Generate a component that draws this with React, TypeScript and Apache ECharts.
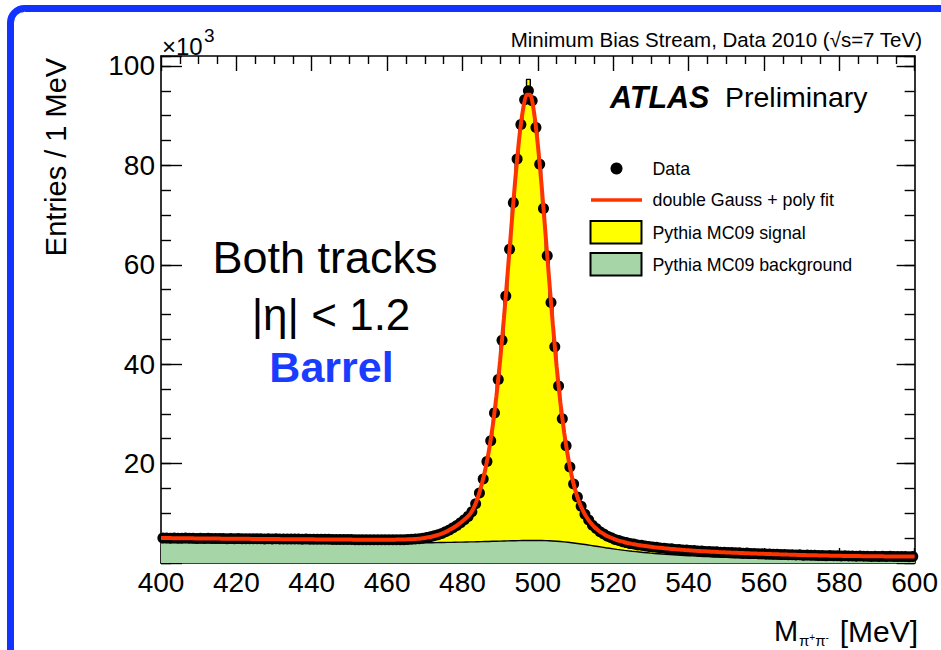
import React, { useEffect, useRef } from 'react';
import * as echarts from 'echarts';

const FONT = "'Liberation Sans', Arial, Helvetica, sans-serif";

// axis ranges / ticks (MeV, x10^3 entries)
const X_MIN = 400;
const X_MAX = 600;
const X_MAJOR = 20;
const X_MINOR_SPLIT = 4;
const Y_MIN = 0;
const Y_MAX = 102;
const Y_MAJOR = 20;
const Y_MINOR = 5;

// 1 MeV bins from 400 to 600
const BIN_LOW = 400;
const BIN_WIDTH = 1;

// Data (x10^3 entries per bin)
const dataCounts = [
  5.05, 5.02, 4.98, 5.04, 4.99, 4.97, 5.01, 4.96, 4.99, 4.95,
  4.97, 4.93, 4.96, 4.92, 4.95, 4.91, 4.94, 4.90, 4.93, 4.89,
  4.91, 4.88, 4.90, 4.87, 4.89, 4.86, 4.88, 4.85, 4.87, 4.84,
  4.86, 4.83, 4.85, 4.82, 4.84, 4.81, 4.83, 4.80, 4.82, 4.79,
  4.80, 4.78, 4.79, 4.76, 4.77, 4.74, 4.75, 4.72, 4.73, 4.71,
  4.71, 4.69, 4.70, 4.68, 4.69, 4.67, 4.69, 4.67, 4.68, 4.67,
  4.68, 4.66, 4.68, 4.67, 4.70, 4.72, 4.76, 4.81, 4.89, 4.99,
  5.12, 5.28, 5.47, 5.69, 5.95, 6.28, 6.66, 7.08, 7.56, 8.10,
  8.70, 9.38, 10.3, 11.9, 14.1, 16.9, 20.4, 24.6, 30.2, 36.9,
  44.8, 53.7, 63.1, 72.5, 81.3, 88.2, 93.2, 95.0, 93.0, 87.6,
  80.2, 71.3, 61.8, 52.4, 43.5, 35.6, 29.0, 23.6, 19.3, 15.9,
  13.3, 11.4, 9.8, 8.65, 7.6, 6.95, 6.3, 5.85, 5.38, 5.08,
  4.74, 4.53, 4.26, 4.10, 3.90, 3.80, 3.63, 3.55, 3.40, 3.34,
  3.20, 3.15, 3.03, 2.99, 2.88, 2.85, 2.74, 2.72, 2.62, 2.60,
  2.51, 2.50, 2.41, 2.40, 2.32, 2.32, 2.24, 2.24, 2.17, 2.17,
  2.10, 2.11, 2.04, 2.05, 1.98, 1.99, 1.92, 1.93, 1.86, 1.87,
  1.81, 1.82, 1.76, 1.77, 1.71, 1.73, 1.66, 1.68, 1.62, 1.64,
  1.58, 1.60, 1.54, 1.56, 1.51, 1.53, 1.47, 1.50, 1.44, 1.47,
  1.42, 1.44, 1.39, 1.42, 1.37, 1.40, 1.35, 1.38, 1.33, 1.37,
  1.32, 1.35, 1.31, 1.34, 1.30, 1.33, 1.29, 1.32, 1.28, 1.31,
];

// double Gauss + poly fit, sampled at 400, 401, ..., 600 MeV
const FIT_START = 400;
const FIT_STEP = 1;
const fitCurve = [
  5.03, 5.02, 5.01, 5.00, 4.99, 4.99, 4.98, 4.97, 4.96, 4.95,
  4.95, 4.94, 4.93, 4.92, 4.92, 4.91, 4.90, 4.90, 4.89, 4.88,
  4.88, 4.87, 4.86, 4.86, 4.85, 4.84, 4.84, 4.83, 4.82, 4.82,
  4.81, 4.81, 4.80, 4.80, 4.79, 4.78, 4.78, 4.77, 4.77, 4.76,
  4.76, 4.75, 4.75, 4.74, 4.74, 4.73, 4.73, 4.72, 4.72, 4.71,
  4.71, 4.70, 4.70, 4.70, 4.69, 4.69, 4.69, 4.69, 4.69, 4.69,
  4.69, 4.69, 4.70, 4.71, 4.72, 4.74, 4.77, 4.81, 4.87, 4.94,
  5.04, 5.17, 5.33, 5.53, 5.77, 6.06, 6.41, 6.82, 7.29, 7.82,
  8.40, 9.04, 9.84, 11.1, 13.0, 15.5, 18.6, 22.5, 27.4, 33.5,
  40.8, 49.2, 58.4, 67.8, 77.0, 85.0, 90.9, 94.2, 94.2, 90.6,
  84.2, 76.0, 66.6, 57.1, 47.9, 39.5, 32.2, 26.2, 21.4, 17.5,
  14.5, 12.2, 10.5, 9.15, 8.1, 7.25, 6.6, 6.05, 5.6, 5.22,
  4.90, 4.62, 4.39, 4.18, 4.00, 3.85, 3.71, 3.59, 3.47, 3.37,
  3.27, 3.17, 3.09, 3.01, 2.93, 2.86, 2.80, 2.73, 2.67, 2.61,
  2.56, 2.50, 2.45, 2.41, 2.36, 2.32, 2.28, 2.24, 2.20, 2.17,
  2.13, 2.10, 2.07, 2.04, 2.01, 1.98, 1.95, 1.92, 1.90, 1.87,
  1.84, 1.82, 1.79, 1.77, 1.74, 1.72, 1.70, 1.67, 1.65, 1.63,
  1.61, 1.59, 1.57, 1.55, 1.54, 1.52, 1.50, 1.49, 1.47, 1.46,
  1.44, 1.43, 1.42, 1.41, 1.40, 1.39, 1.38, 1.37, 1.36, 1.35,
  1.35, 1.34, 1.33, 1.33, 1.32, 1.32, 1.31, 1.31, 1.30, 1.30, 1.30,
];

// Pythia MC09 signal + background (stack top), per bin
const mcSignalPlusBackground = [
  4.95, 4.93, 4.92, 4.93, 4.90, 4.89, 4.90, 4.87, 4.88, 4.86,
  4.87, 4.84, 4.86, 4.83, 4.85, 4.82, 4.84, 4.81, 4.83, 4.80,
  4.81, 4.79, 4.80, 4.78, 4.79, 4.76, 4.78, 4.75, 4.77, 4.74,
  4.76, 4.73, 4.75, 4.72, 4.74, 4.71, 4.73, 4.70, 4.72, 4.69,
  4.70, 4.68, 4.69, 4.66, 4.67, 4.64, 4.65, 4.63, 4.64, 4.62,
  4.62, 4.60, 4.61, 4.59, 4.60, 4.58, 4.60, 4.58, 4.59, 4.58,
  4.59, 4.58, 4.60, 4.60, 4.62, 4.65, 4.69, 4.74, 4.82, 4.92,
  5.04, 5.19, 5.38, 5.60, 5.86, 6.18, 6.55, 6.97, 7.45, 8.00,
  8.60, 9.28, 10.1, 11.7, 13.9, 16.6, 20.0, 24.2, 29.8, 36.5,
  44.5, 53.5, 63.0, 72.5, 81.5, 88.6, 93.8, 97.3, 92.8, 87.3,
  79.8, 70.8, 61.2, 51.8, 42.9, 35.0, 28.5, 23.1, 18.8, 15.5,
  12.9, 11.0, 9.5, 8.3, 7.3, 6.6, 6.0, 5.5, 5.1, 4.78,
  4.48, 4.23, 4.02, 3.83, 3.67, 3.53, 3.40, 3.29, 3.18, 3.08,
  2.99, 2.91, 2.83, 2.76, 2.69, 2.62, 2.56, 2.50, 2.45, 2.40,
  2.35, 2.30, 2.26, 2.21, 2.17, 2.14, 2.10, 2.07, 2.03, 2.00,
  1.97, 1.94, 1.92, 1.89, 1.86, 1.84, 1.81, 1.79, 1.77, 1.74,
  1.72, 1.70, 1.68, 1.66, 1.64, 1.62, 1.60, 1.58, 1.57, 1.55,
  1.53, 1.52, 1.50, 1.49, 1.47, 1.46, 1.45, 1.43, 1.42, 1.41,
  1.40, 1.39, 1.38, 1.37, 1.36, 1.35, 1.34, 1.33, 1.32, 1.32,
  1.31, 1.30, 1.30, 1.29, 1.29, 1.28, 1.28, 1.27, 1.27, 1.27,
];

// Pythia MC09 background, per bin
const mcBackground = [
  4.12, 4.11, 4.12, 4.10, 4.11, 4.09, 4.10, 4.09, 4.08, 4.09,
  4.08, 4.07, 4.08, 4.06, 4.07, 4.06, 4.05, 4.06, 4.05, 4.04,
  4.05, 4.04, 4.03, 4.04, 4.03, 4.02, 4.03, 4.02, 4.01, 4.02,
  4.01, 4.00, 4.01, 4.00, 3.99, 4.00, 3.99, 3.98, 3.99, 3.98,
  3.98, 3.97, 3.98, 3.97, 3.96, 3.97, 3.96, 3.96, 3.97, 3.96,
  3.96, 3.97, 3.96, 3.97, 3.97, 3.98, 3.97, 3.98, 3.99, 3.98,
  3.99, 4.00, 4.00, 4.01, 4.02, 4.02, 4.03, 4.04, 4.05, 4.06,
  4.07, 4.08, 4.09, 4.11, 4.12, 4.14, 4.15, 4.17, 4.19, 4.20,
  4.22, 4.24, 4.26, 4.28, 4.30, 4.32, 4.34, 4.37, 4.39, 4.41,
  4.43, 4.45, 4.47, 4.49, 4.51, 4.52, 4.53, 4.54, 4.54, 4.53,
  4.52, 4.50, 4.47, 4.43, 4.38, 4.32, 4.25, 4.17, 4.08, 3.98,
  3.88, 3.77, 3.66, 3.55, 3.43, 3.31, 3.19, 3.07, 2.96, 2.85,
  2.74, 2.64, 2.54, 2.45, 2.36, 2.28, 2.20, 2.12, 2.05, 1.98,
  1.92, 1.86, 1.80, 1.75, 1.70, 1.65, 1.60, 1.55, 1.51, 1.47,
  1.43, 1.39, 1.35, 1.32, 1.28, 1.25, 1.22, 1.19, 1.16, 1.13,
  1.10, 1.07, 1.05, 1.02, 1.00, 0.97, 0.95, 0.93, 0.91, 0.89,
  0.87, 0.85, 0.83, 0.81, 0.79, 0.77, 0.76, 0.74, 0.73, 0.71,
  0.70, 0.68, 0.67, 0.66, 0.64, 0.63, 0.62, 0.61, 0.60, 0.59,
  0.58, 0.57, 0.56, 0.55, 0.54, 0.53, 0.53, 0.52, 0.51, 0.50,
  0.50, 0.49, 0.48, 0.48, 0.47, 0.47, 0.46, 0.46, 0.45, 0.45,
];

const LEGEND_LABELS = ['Data', 'double Gauss + poly fit', 'Pythia MC09 signal', 'Pythia MC09 background'];

const COLORS = {
  data: '#000000',
  fit: '#ff3300',
  signal: '#ffff00',
  background: '#a6d6a8',
  blue: '#1232ff',
};

function stepEdges(values: number[]): number[][] {
  const pts = values.map((v, i) => [BIN_LOW + i * BIN_WIDTH, v]);
  pts.push([BIN_LOW + values.length * BIN_WIDTH, values[values.length - 1]]);
  return pts;
}

export default function App() {
  const ref = useRef<HTMLDivElement>(null);

  useEffect(() => {
    document.body.style.margin = '0';
    const chart = echarts.init(ref.current!, null, { renderer: 'svg' });

    const tickLine = { color: '#000', width: 1.4 };
    const axisLine = { show: true, onZero: false, lineStyle: { color: '#000', width: 1.6 } };
    const noSplit = { show: false };

    const xCommon = {
      type: 'value',
      min: X_MIN,
      max: X_MAX,
      interval: X_MAJOR,
      axisLine,
      splitLine: noSplit,
      minorSplitLine: noSplit,
      axisTick: { show: true, inside: true, length: 15, lineStyle: tickLine },
      minorTick: { show: true, splitNumber: X_MINOR_SPLIT, length: 8, lineStyle: tickLine },
    };

    const yMajorLabel = (v: number) => (v !== 0 && v % Y_MAJOR === 0 ? String(v) : '');

    const txt = (x: number, y: number, text: string, fontSize: number, extra: any = {}, elExtra: any = {}) => ({
      type: 'text',
      x,
      y,
      ...elExtra,
      style: { text, fontSize, fontFamily: FONT, fill: '#000', align: 'left', verticalAlign: 'middle', ...extra },
    });

    const option: any = {
      animation: false,
      backgroundColor: '#ffffff',
      grid: { left: 161, right: 23, top: 56, bottom: 87, containLabel: false },
      xAxis: [
        {
          ...xCommon,
          position: 'bottom',
          axisLabel: { show: true, fontSize: 28, color: '#000', fontFamily: FONT, margin: 5 },
        },
        {
          ...xCommon,
          position: 'top',
          axisLabel: { show: false },
        },
      ],
      yAxis: [
        {
          type: 'value', position: 'left', min: Y_MIN, max: Y_MAX, interval: Y_MAJOR,
          axisLine, splitLine: noSplit,
          axisTick: { show: true, inside: true, length: 21, lineStyle: tickLine },
          axisLabel: { show: true, fontSize: 28, color: '#000', fontFamily: FONT, margin: 6, formatter: yMajorLabel },
        },
        {
          type: 'value', position: 'left', min: Y_MIN, max: Y_MAX, interval: Y_MINOR,
          axisLine: { show: false }, splitLine: noSplit,
          axisTick: { show: true, inside: true, length: 10, lineStyle: tickLine },
          axisLabel: { show: false },
        },
        {
          type: 'value', position: 'right', min: Y_MIN, max: Y_MAX, interval: Y_MAJOR,
          axisLine, splitLine: noSplit,
          axisTick: { show: true, inside: true, length: 18, lineStyle: tickLine },
          axisLabel: { show: false },
        },
        {
          type: 'value', position: 'right', min: Y_MIN, max: Y_MAX, interval: Y_MINOR,
          axisLine: { show: false }, splitLine: noSplit,
          axisTick: { show: true, inside: true, length: 10, lineStyle: tickLine },
          axisLabel: { show: false },
        },
      ],
      series: [
        {
          name: LEGEND_LABELS[2],
          type: 'line',
          step: 'end',
          xAxisIndex: 0,
          yAxisIndex: 0,
          symbol: 'none',
          z: 2,
          lineStyle: { color: '#000', width: 1.4 },
          areaStyle: { color: COLORS.signal, opacity: 1 },
          data: stepEdges(mcSignalPlusBackground),
        },
        {
          name: LEGEND_LABELS[3],
          type: 'line',
          step: 'end',
          xAxisIndex: 0,
          yAxisIndex: 0,
          symbol: 'none',
          z: 2,
          lineStyle: { color: '#000', width: 1.4 },
          areaStyle: { color: COLORS.background, opacity: 1 },
          data: stepEdges(mcBackground),
        },
        {
          name: LEGEND_LABELS[0],
          type: 'scatter',
          xAxisIndex: 0,
          yAxisIndex: 0,
          symbol: 'circle',
          symbolSize: 11,
          z: 3,
          itemStyle: { color: COLORS.data, opacity: 1 },
          data: dataCounts.map((v, i) => [BIN_LOW + (i + 0.5) * BIN_WIDTH, v]),
        },
        {
          name: LEGEND_LABELS[1],
          type: 'line',
          xAxisIndex: 0,
          yAxisIndex: 0,
          symbol: 'none',
          smooth: 0.2,
          z: 4,
          lineStyle: { color: COLORS.fit, width: 4 },
          data: fitCurve.map((v, i) => [FIT_START + i * FIT_STEP, v]),
        },
      ],
      graphic: [
        {
          type: 'rect', silent: true, z: 10,
          shape: { x: 10.5, y: 8.5, width: 1000, height: 800, r: 14 },
          style: { fill: 'none', stroke: COLORS.blue, lineWidth: 7 },
        },
        // x10^3
        txt(162, 46.5, '×10', 24),
        txt(204, 35, '3', 19),
        // top-right title
        txt(922, 39.5, 'Minimum Bias Stream, Data 2010 (√s=7 TeV)', 20.5, { align: 'right' }),
        // ATLAS Preliminary
        txt(610, 97, 'ATLAS', 30.5, { fontWeight: 'bold', fontStyle: 'italic' }),
        txt(725, 97, 'Preliminary', 28.5),
        // legend
        { type: 'circle', shape: { cx: 616.5, cy: 168.5, r: 6 }, style: { fill: COLORS.data } },
        { type: 'line', shape: { x1: 591, y1: 200, x2: 642, y2: 200 }, style: { stroke: COLORS.fit, lineWidth: 3.5 } },
        { type: 'rect', shape: { x: 590.5, y: 221, width: 51, height: 22.5 }, style: { fill: COLORS.signal, stroke: '#000', lineWidth: 2 } },
        { type: 'rect', shape: { x: 590.5, y: 253, width: 51, height: 22.5 }, style: { fill: COLORS.background, stroke: '#000', lineWidth: 2 } },
        txt(652.5, 169, LEGEND_LABELS[0], 17.8),
        txt(652.5, 200, LEGEND_LABELS[1], 17.8),
        txt(652.5, 233, LEGEND_LABELS[2], 17.8),
        txt(652.5, 264.5, LEGEND_LABELS[3], 17.8),
        // selection text
        txt(325, 257, 'Both tracks', 45, { align: 'center' }),
        txt(331, 314, '|η| < 1.2', 44, { align: 'center' }),
        txt(331.5, 367, 'Barrel', 43, { align: 'center', fontWeight: 'bold', fill: '#1a3cff' }),
        // y-axis title
        txt(56, 157, 'Entries / 1 MeV', 29, { align: 'center' }, { rotation: Math.PI / 2 }),
        // x-axis title
        txt(774, 631, 'M', 29),
        {
          type: 'text',
          x: 799,
          y: 640,
          style: {
            text: '{p|π}{s|+}{p|π}{s|-}',
            fontFamily: FONT,
            fill: '#000',
            align: 'left',
            verticalAlign: 'middle',
            rich: {
              p: { fontSize: 15, lineHeight: 16, fontFamily: FONT, verticalAlign: 'bottom' },
              s: { fontSize: 10, lineHeight: 16, fontFamily: FONT, verticalAlign: 'top', padding: [0, 0, 7, 0] },
            },
          },
        },
        txt(918, 631, '[MeV]', 30, { align: 'right' }),
      ],
    };

    chart.setOption(option);
    return () => chart.dispose();
  }, []);

  return (
    <div
      ref={ref}
      style={{ position: 'absolute', left: 0, top: 0, width: 941, height: 650, background: '#fff' }}
    />
  );
}
